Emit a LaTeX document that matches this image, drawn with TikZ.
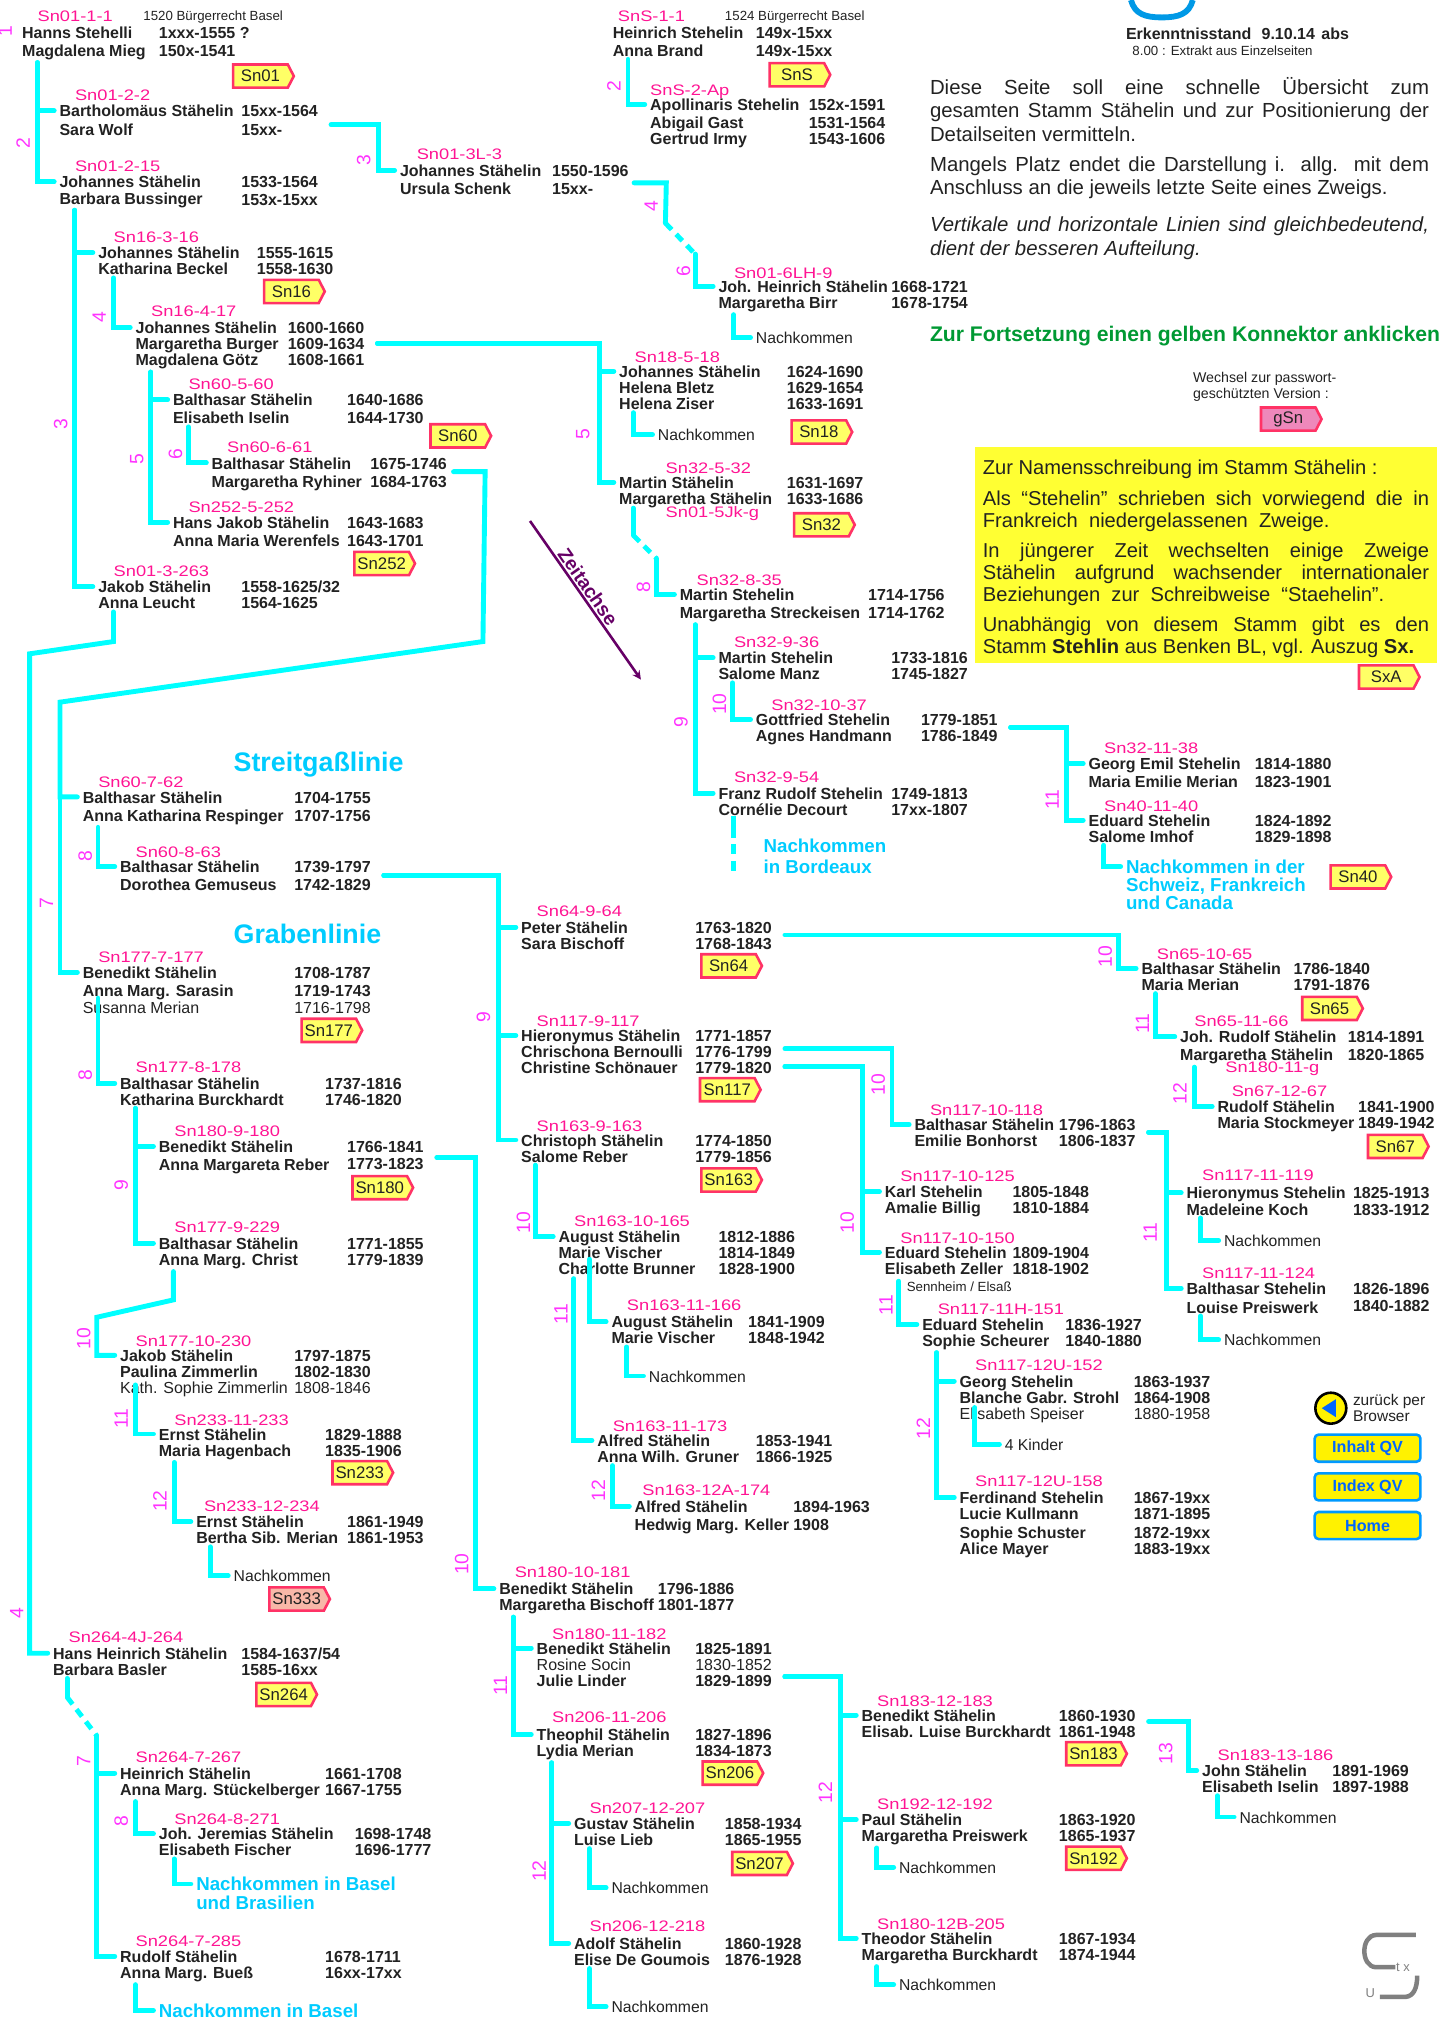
\documentclass[tikz,border=0pt]{standalone}
\usepackage{fontspec}
\setmainfont{Liberation Sans}
\newfontfamily\idfont[FakeStretch=1.2]{Liberation Sans}
\usetikzlibrary{shapes.symbols}
\definecolor{linecyan}{HTML}{00FFFF}
\definecolor{textcyan}{HTML}{00CCFF}
\definecolor{idpink}{HTML}{FF1493}
\definecolor{genpink}{HTML}{FF33FF}
\definecolor{tagred}{HTML}{FF3366}
\definecolor{tagyellow}{HTML}{FFFF66}
\definecolor{tagpink}{HTML}{EE88BB}
\definecolor{tagsalmon}{HTML}{F8B8A8}
\definecolor{boxyellow}{HTML}{FFFF33}
\definecolor{hintgreen}{HTML}{009933}
\definecolor{logoblue}{HTML}{0099E6}
\definecolor{timepurple}{HTML}{660066}
\definecolor{btnblue}{HTML}{0099FF}
\definecolor{btntext}{HTML}{0066FF}
\definecolor{ink}{HTML}{222222}
\begin{document}
\begin{tikzpicture}[x=1pt,y=-1pt]
	\tikzstyle{pers}=[anchor=north west,inner sep=0pt,yshift=5.5pt,align=left,text=ink,font=\fontsize{12.4}{12.5}\selectfont\bfseries]
	\tikzstyle{kenn}=[anchor=west,inner sep=0pt,text=idpink,font=\idfont\fontsize{11.8}{12}\selectfont]
	\tikzstyle{nach}=[anchor=north west,inner sep=0pt,yshift=5.5pt,align=left,text=ink,font=\fontsize{12.2}{13}\selectfont]
	\tikzstyle{zweig}=[anchor=north west,inner sep=0pt,yshift=5.5pt,align=left,text=textcyan,font=\fontsize{14.5}{14.2}\selectfont\bfseries]
	\tikzstyle{titel}=[anchor=west,inner sep=0pt,text=textcyan,font=\fontsize{20.8}{22}\selectfont\bfseries]
	\tikzstyle{gen}=[inner sep=0pt,rotate=90,text=genpink,font=\fontsize{15}{15}\selectfont]
	\tikzstyle{klein}=[anchor=west,inner sep=0pt,text=ink,font=\fontsize{10.3}{12}\selectfont]
	\tikzstyle{para}=[anchor=north west,inner sep=0pt,text width=387pt,align=justify,text=ink,font=\fontsize{15.8}{18}\selectfont]
	\tikzstyle{gelb}=[anchor=north west,inner sep=0pt,text width=346pt,align=justify,text=ink,font=\fontsize{15.6}{16.8}\selectfont]
	\tikzstyle{konn}=[signal,signal to=east,signal pointer angle=125,draw=tagred,fill=tagyellow,line width=2pt,inner sep=0pt,minimum width=47pt,minimum height=18pt,xshift=-3pt,text=ink,font=\fontsize{13}{13}\selectfont]
	\tikzstyle{knopf}=[rounded corners=3pt,draw=btnblue,fill=yellow,line width=2pt,minimum width=82pt,minimum height=21pt,inner sep=0pt,text=btntext,font=\fontsize{12.5}{13}\selectfont\bfseries]
	\tikzstyle{linie}=[draw=linecyan,line width=3.8pt,line cap=round]
	\tikzstyle{strich}=[draw=linecyan,line width=3.8pt,dash pattern=on 7pt off 5pt]

	\useasboundingbox (0,0) rectangle (1126,1568);

	\foreach \key/\px/\py/\sx/\sy/\sid/\names/\qx/\years in {
		a1/17/25/29/13/Sn01-1-1/{Hanns Stehelli\\[1.5pt]Magdalena Mieg}/123/{1xxx-1555 ?\\[1.5pt]150x-1541},
		a2/46/86/58/74/Sn01-2-2/{Bartholomäus Stähelin\\[1.5pt]Sara Wolf}/187/{15xx-1564\\[1.5pt]15xx-},
		a3/46/141/58/129/Sn01-2-15/{Johannes Stähelin\\Barbara Bussinger}/187/{1533-1564\\[1pt]153x-15xx},
		b1/76/196/88/184/Sn16-3-16/{Johannes Stähelin\\Katharina Beckel}/199/{1555-1615\\1558-1630},
		b2/105/254/117/241/Sn16-4-17/{Johannes Stähelin\\Margaretha Burger\\Magdalena Götz}/223/{1600-1660\\1609-1634\\1608-1661},
		c1/134/310/146/298/Sn60-5-60/{Balthasar Stähelin\\[1.5pt]Elisabeth Iselin}/269/{1640-1686\\[1.5pt]1644-1730},
		c2/164/359/176/347/Sn60-6-61/{Balthasar Stähelin\\[1.5pt]Margaretha Ryhiner}/287/{1675-1746\\[1.5pt]1684-1763},
		c3/134/405/146/393/Sn252-5-252/{Hans Jakob Stähelin\\[1.5pt]Anna Maria Werenfels}/269/{1643-1683\\[1.5pt]1643-1701},
		d1/76/455/88/443/Sn01-3-263/{Jakob Stähelin\\Anna Leucht}/187/{1558-1625/32\\1564-1625},
		e1/64/618/76/607/Sn60-7-62/{Balthasar Stähelin\\[1.5pt]Anna Katharina Respinger}/228/{1704-1755\\[1.5pt]1707-1756},
		e2/93/672/105/661/Sn60-8-63/{Balthasar Stähelin\\[1.5pt]Dorothea Gemuseus}/228/{1739-1797\\[1.5pt]1742-1829},
		f1/64/754/76/742/Sn177-7-177/{Benedikt Stähelin\\[1.5pt]Anna Marg. Sarasin\\[1pt]\textmd{Susanna Merian}}/228/{1708-1787\\[1.5pt]1719-1743\\[1pt]\textmd{1716-1798}},
		f2/93/840/105/828/Sn177-8-178/{Balthasar Stähelin\\Katharina Burckhardt}/252/{1737-1816\\1746-1820},
		f3/123/889/135/877/Sn180-9-180/{Benedikt Stähelin\\[1.5pt]Anna Margareta Reber}/269/{1766-1841\\[1pt]1773-1823},
		f4/123/964/135/952/Sn177-9-229/{Balthasar Stähelin\\Anna Marg. Christ}/269/{1771-1855\\1779-1839},
		g1/93/1051/105/1040/Sn177-10-230/{Jakob Stähelin\\Paulina Zimmerlin\\\textmd{Kath. Sophie Zimmerlin}}/228/{1797-1875\\1802-1830\\\textmd{1808-1846}},
		g2/123/1112/135/1101/Sn233-11-233/{Ernst Stähelin\\Maria Hagenbach}/252/{1829-1888\\1835-1906},
		g3/152/1180/158/1168/Sn233-12-234/{Ernst Stähelin\\Bertha Sib. Merian}/269/{1861-1949\\1861-1953},
		h1/41/1282/53/1270/Sn264-4J-264/{Hans Heinrich Stähelin\\Barbara Basler}/187/{1584-1637/54\\1585-16xx},
		h2/93/1375/105/1363/Sn264-7-267/{Heinrich Stähelin\\Anna Marg. Stückelberger}/252/{1661-1708\\1667-1755},
		h3/123/1422/135/1411/Sn264-8-271/{Joh. Jeremias Stähelin\\Elisabeth Fischer}/275/{1698-1748\\1696-1777},
		h5/93/1517/105/1505/Sn264-7-285/{Rudolf Stähelin\\Anna Marg. Bueß}/252/{1678-1711\\16xx-17xx},
		i1/475/25/479/13/SnS-1-1/{Heinrich Stehelin\\[1.5pt]Anna Brand}/586/{149x-15xx\\[1.5pt]149x-15xx},
		i2/504/81/504/71/SnS-2-Ap/{Apollinaris Stehelin\\[1.5pt]Abigail Gast\\Gertrud Irmy}/627/{152x-1591\\[1.5pt]1531-1564\\1543-1606},
		j1/310/132/323/120/Sn01-3L-3/{Johannes Stähelin\\[1.5pt]Ursula Schenk}/428/{1550-1596\\[1.5pt]15xx-},
		k1/557/222/569/212/Sn01-6LH-9/{Joh. Heinrich Stähelin\\Margaretha Birr}/691/{1668-1721\\1678-1754},
		l1/480/288/492/277/Sn18-5-18/{Johannes Stähelin\\Helena Bletz\\Helena Ziser}/610/{1624-1690\\1629-1654\\1633-1691},
		m1/480/374/516/363/Sn32-5-32/{Martin Stähelin\\Margaretha Stähelin}/610/{1631-1697\\1633-1686},
		n1/527/461/540/450/Sn32-8-35/{Martin Stehelin\\[1.5pt]Margaretha Streckeisen}/673/{1714-1756\\[1.5pt]1714-1762},
		n2/557/510/569/498/Sn32-9-36/{Martin Stehelin\\Salome Manz}/691/{1733-1816\\1745-1827},
		n3/586/558/598/547/Sn32-10-37/{Gottfried Stehelin\\Agnes Handmann}/714/{1779-1851\\1786-1849},
		n4/557/615/569/603/Sn32-9-54/{Franz Rudolf Stehelin\\Cornélie Decourt}/691/{1749-1813\\17xx-1807},
		o1/844/592/856/580/Sn32-11-38/{Georg Emil Stehelin\\[1.5pt]Maria Emilie Merian}/973/{1814-1880\\[1.5pt]1823-1901},
		o2/844/636/856/625/Sn40-11-40/{Eduard Stehelin\\Salome Imhof}/973/{1824-1892\\1829-1898},
		p1/404/719/416/707/Sn64-9-64/{Peter Stähelin\\Sara Bischoff}/539/{1763-1820\\1768-1843},
		p2/404/803/416/792/Sn117-9-117/{Hieronymus Stähelin\\Chrischona Bernoulli\\Christine Schönauer}/539/{1771-1857\\1776-1799\\1779-1820},
		p3/404/884/416/873/Sn163-9-163/{Christoph Stähelin\\Salome Reber}/539/{1774-1850\\1779-1856},
		p4/433/959/445/947/Sn163-10-165/{August Stähelin\\Marie Vischer\\Charlotte Brunner}/557/{1812-1886\\1814-1849\\1828-1900},
		p5/474/1025/486/1012/Sn163-11-166/{August Stähelin\\Marie Vischer}/580/{1841-1909\\1848-1942},
		p7/463/1117/475/1106/Sn163-11-173/{Alfred Stähelin\\Anna Wilh. Gruner}/586/{1853-1941\\1866-1925},
		p8/492/1168/498/1156/Sn163-12A-174/{Alfred Stähelin\\[1.5pt]Hedwig Marg. Keller}/615/{1894-1963\\[1.5pt]1908},
		q1/387/1232/399/1219/Sn180-10-181/{Benedikt Stähelin\\Margaretha Bischoff}/510/{1796-1886\\1801-1877},
		q2/416/1278/428/1267/Sn180-11-182/{Benedikt Stähelin\\\textmd{Rosine Socin}\\Julie Linder}/539/{1825-1891\\\textmd{1830-1852}\\1829-1899},
		q3/416/1345/428/1332/Sn206-11-206/{Theophil Stähelin\\Lydia Merian}/539/{1827-1896\\1834-1873},
		q4/445/1414/457/1402/Sn207-12-207/{Gustav Stähelin\\Luise Lieb}/562/{1858-1934\\1865-1955},
		q6/445/1507/457/1494/Sn206-12-218/{Adolf Stähelin\\Elise De Goumois}/562/{1860-1928\\1876-1928},
		r1/668/1330/680/1319/Sn183-12-183/{Benedikt Stähelin\\Elisab. Luise Burckhardt}/821/{1860-1930\\1861-1948},
		r2/668/1411/680/1399/Sn192-12-192/{Paul Stähelin\\Margaretha Preiswerk}/821/{1863-1920\\1865-1937},
		r4/668/1503/680/1492/Sn180-12B-205/{Theodor Stähelin\\Margaretha Burckhardt}/821/{1867-1934\\1874-1944},
		s1/932/1373/944/1361/Sn183-13-186/{John Stähelin\\Elisabeth Iselin}/1033/{1891-1969\\1897-1988},
		t1/885/751/897/740/Sn65-10-65/{Balthasar Stähelin\\Maria Merian}/1003/{1786-1840\\1791-1876},
		t2/915/804/926/792/Sn65-11-66/{Joh. Rudolf Stähelin\\[1.5pt]Margaretha Stähelin}/1045/{1814-1891\\[1.5pt]1820-1865},
		t3/944/858/955/846/Sn67-12-67/{Rudolf Stähelin\\Maria Stockmeyer}/1053/{1841-1900\\1849-1942},
		u1/709/872/721/861/Sn117-10-118/{Balthasar Stähelin\\Emilie Bonhorst}/821/{1796-1863\\1806-1837},
		u2/686/924/698/912/Sn117-10-125/{Karl Stehelin\\Amalie Billig}/785/{1805-1848\\1810-1884},
		u3/686/971/698/960/Sn117-10-150/{Eduard Stehelin\\Elisabeth Zeller}/785/{1809-1904\\1818-1902},
		u4/715/1027/727/1015/Sn117-11H-151/{Eduard Stehelin\\Sophie Scheurer}/826/{1836-1927\\1840-1880},
		u5/744/1071/756/1059/Sn117-12U-152/{Georg Stehelin\\Blanche Gabr. Strohl\\\textmd{Elisabeth Speiser}}/879/{1863-1937\\1864-1908\\\textmd{1880-1958}},
		u6/744/1161/756/1149/Sn117-12U-158/{Ferdinand Stehelin\\Lucie Kullmann\\[2.5pt]Sophie Schuster\\Alice Mayer}/879/{1867-19xx\\1871-1895\\[2.5pt]1872-19xx\\1883-19xx},
		v1/920/925/932/911/Sn117-11-119/{Hieronymus Stehelin\\Madeleine Koch}/1049/{1825-1913\\1833-1912},
		v3/920/999/932/987/Sn117-11-124/{Balthasar Stehelin\\[2pt]Louise Preiswerk}/1049/{1826-1896\\[1pt]1840-1882}}
	{
		\node[kenn] (s\key) at (\sx,\sy) {\sid};
		\node[pers] (\key) at (\px,\py) {\rule{0pt}{10pt}\names};
		\node[pers] (q\key) at (\qx,\py) {\rule{0pt}{10pt}\years};
	}

	\node[kenn] (s1x) at (516,398) {Sn01-5Jk-g};
	\node[kenn] (s2x) at (950,829) {Sn180-11-g};

	\foreach \key/\px/\py/\txt in {k2/586/262/Nachkommen,l2/510/337/Nachkommen,g4/181/1222/Nachkommen,p6/503/1067/Nachkommen,q5/474/1464/Nachkommen,q7/474/1556/Nachkommen,r3/697/1448/Nachkommen,r5/697/1539/Nachkommen,s2/961/1409/Nachkommen,v2/949/962/Nachkommen,v4/949/1039/Nachkommen,u7/779/1120/4 Kinder}
		\node[nach] (\key) at (\px,\py) {\rule{0pt}{10pt}\txt};

	\node[zweig] (h4) at (152,1461) {Nachkommen in Basel\\und Brasilien};
	\node[zweig] (h6) at (123,1559) {Nachkommen in Basel};
	\node[zweig] (n5) at (592,656) {Nachkommen\\[1.8pt]in Bordeaux};
	\node[zweig] (o3) at (873,672) {Nachkommen in der\\Schweiz, Frankreich\\und Canada};

	\node[titel] (streit) at (181,593) {Streitgaßlinie};
	\node[titel] (graben) at (181,724) {Grabenlinie};

	\node[klein] (b1520) at (111,13) {1520 Bürgerrecht Basel};
	\node[klein] (b1524) at (562,13) {1524 Bürgerrecht Basel};
	\node[klein] (senn) at (703,998) {Sennheim / Elsaß};

	\foreach \x/\y/\g [count=\i] in {4/24/1,18/111/2,47/329/3,77/246/4,106/356/5,136/352/6,282/124/3,36/700/7,66/664/8,66/834/8,94/919/9,65/1038/10,94/1100/11,124/1164/12,13/1251/4,65/1366/7,94/1412/8,358/1213/10,375/789/9,406/948/10,435/1019/11,464/1156/12,388/1307/11,418/1451/12,640/1390/12,904/1360/13,476/67/2,505/160/4,530/210/6,452/337/5,499/455/8,528/560/9,558/546/10,816/620/11,857/742/10,886/794/11,915/848/12,681/841/10,657/948/10,892/956/11,687/1012/11,716/1108/12}
		\node[gen] (gen\i) at (\x,\y) {\g};

	\foreach \from/\to/\dx/\dy in {a1/a2/12/2,a1/a3/12/2,a3/b1/12/2,a3/d1/12/2,b1/b2/12/2,b2/c1/12/2,b2/c3/12/2,c1/c2/12/2,e1/e2/12/2,f1/f2/12/-12.5,f2/f3/12/2,f2/f4/12/2,g1/g2/12/-9.5,g2/g3/12/2,g3/g4/11/2,h2/h3/12/2,h3/h4/12/2,h5/h6/12/2,i1/i2/12/2,k1/k2/12/2,l1/l2/11/2,n1/n2/12/2,n1/n4/12/2,n2/n3/11/2,o2/o3/12/2,t1/t2/11/2,t2/t3/11/2,v1/v2/11/2,v3/v4/11/2,u3/u4/11/5,u4/u5/11.5/2,u4/u6/11.5/2,u5/u7/12/-12,p3/p4/11/2,p4/p5/24/-12.5,p4/p7/12/2.5,p5/p6/12/2,p7/p8/12/2,q1/q2/11/2,q1/q3/11/2,q3/q4/12/2,q3/q6/12/2,q4/q5/12/2,q6/q7/12/2,r2/r3/12/2,r4/r5/12/2,s1/s2/12/2}
		\draw[linie] ([shift={(\dx,\dy)}]\from.south west) |- ([shift={(-4,5.5)}]\to.north west);

	\foreach \from/\dy/\run/\to in {a2/4/37/j1,b2/0/172/l1,b2/0/172/m1,e2/0/89/p1,e2/0/89/p2,e2/0/89/p3,f3/2/30/q1,n3/0/43/o1,n3/0/43/o2,p1/0/259/t1,p2/-2/83/u1,p2/12/60/u2,p2/12/60/u3,u1/0/14/v1,u1/0/14/v3,q2/10/43/r1,q2/10/43/r2,q2/10/43/r4,r1/-1/31/s1}
		\draw[linie] ([shift={(10,\dy)}]q\from.east) -- ++(\run,0) |- ([shift={(-4,5.5)}]\to.north west);

	\coordinate (d1a) at (88,497.5);
	\coordinate (d1b) at (23,507);
	\draw[linie] ([shift={(12,2)}]d1.south west) -- (d1a) -- (d1b) |- ([shift={(-4,5.5)}]h1.north west);
	\coordinate (c2a) at (374.5,497.5);
	\coordinate (c2b) at (46.5,544.5);
	\draw[linie] ([shift={(5,0)}]qc2.east) -- ++(24.5,0) -- (c2a) -- (c2b) |- ([shift={(-4,5.5)}]e1.north west);
	\draw[linie] (c2b) |- ([shift={(-4,5.5)}]f1.north west);
	\coordinate (f4a) at (134.5,1008);
	\coordinate (f4b) at (75,1021.5);
	\draw[linie] ([shift={(11.5,2)}]f4.south west) -- (f4a) -- (f4b) |- ([shift={(-4,5.5)}]g1.north west);
	\coordinate (j1a) at (516,173);
	\coordinate (j1b) at (539,197);
	\draw[linie] ([shift={(4,3)}]qj1.east) -- ++(25,0) -- (j1a);
	\draw[strich] (j1a) -- (j1b);
	\draw[linie] (j1b) |- ([shift={(-4,5.5)}]k1.north west);
	\coordinate (m1a) at (491,415);
	\coordinate (m1b) at (509,433);
	\draw[linie] ([shift={(11,0)}]m1.south west) -- (m1a);
	\draw[strich] (m1a) -- (m1b);
	\draw[linie] (m1b) |- ([shift={(-4,5.5)}]n1.north west);
	\coordinate (h1a) at (52,1316);
	\coordinate (h1b) at (75,1346);
	\draw[linie] ([shift={(11,2)}]h1.south west) -- (h1a);
	\draw[strich] (h1a) -- (h1b);
	\draw[linie] (h1b) |- ([shift={(-4,5.5)}]h2.north west);
	\draw[linie] (h1b) |- ([shift={(-4,5.5)}]h5.north west);
	\coordinate (n4a) at (568.5,676);
	\draw[draw=linecyan,line width=3.8pt,dash pattern=on 17pt off 5pt on 8pt off 5pt on 8pt off 50pt] ([shift={(11.5,0)}]n4.south west) -- (n4a);

	\foreach \name/\x/\y in {Sn01/205/59,SnS/621/58,Sn16/229/226,Sn60/358/338,Sn18/638/335,Sn32/640/407,Sn252/299/437,SxA/1078/525,Sn40/1056/680,Sn177/258/799,Sn64/568/749,Sn65/1034/782,Sn117/567/845,Sn67/1085/889,Sn163/568/915,Sn180/297.5/921,Sn233/282/1142,Sn264/223/1314,Sn206/569/1375,Sn207/592/1445,Sn183/851/1360,Sn192/851/1441}
		\node[konn] (t\name) at (\x,\y) {\name};
	\node[konn,fill=tagsalmon] (tSn333) at (233,1240) {Sn333};
	\node[konn,fill=tagpink] (tgSn) at (1002,325) {gSn};

	\draw[line width=4.5pt,draw=logoblue] (877,0) .. controls (880,11) and (888,13.5) .. (901,13.5) .. controls (914,13.5) and (922,11) .. (925,0);
	\node[anchor=west,inner sep=0pt,text=ink,font=\fontsize{12.4}{12}\selectfont\bfseries] (stand) at (873,26) {Erkenntnisstand\hspace{8pt}9.10.14\hspace{5pt}abs};
	\node[klein] (extrakt) at (878,39) {8.00 :\hspace{4pt}Extrakt aus Einzelseiten};

	\node[para] (txt1) at (721,60) {Diese Seite soll eine schnelle Übersicht zum\linebreak gesamten Stamm Stähelin und zur Positionierung der\linebreak Detailseiten vermitteln.};
	\node[para] (txt2) at (721,121) {Mangels Platz endet die Darstellung\hspace{6pt}i. allg. mit dem\linebreak Anschluss an die jeweils letzte Seite eines Zweigs.};
	\node[para,font=\fontsize{15.8}{18.6}\selectfont\itshape] (txt3) at (721,167.5) {Vertikale und horizontale Linien sind gleichbedeutend,\linebreak dient der besseren Aufteilung.};
	\node[anchor=west,inner sep=0pt,text=hintgreen,font=\fontsize{16.4}{17}\selectfont\bfseries] (hint) at (721,261) {Zur Fortsetzung einen gelben Konnektor anklicken};
	\node[klein,align=left,font=\fontsize{11}{12}\selectfont] (wechsel) at (925,300) {Wechsel zur passwort-\\geschützten Version :};

	\fill[boxyellow] (756,347) rectangle (1114,514);
	\node[gelb] (gelb1) at (762,356.5) {Zur Namensschreibung im Stamm Stähelin :};
	\node[gelb] (gelb2) at (762,380.5) {Als “Stehelin” schrieben sich vorwiegend die in\linebreak Frankreich\ \ niedergelassenen\ \ Zweige.};
	\node[gelb] (gelb3) at (762,421) {In jüngerer Zeit wechselten einige Zweige\linebreak Stähelin aufgrund wachsender internationaler\linebreak Beziehungen\ \ zur\ \ Schreibweise\ \ “Staehelin”.};
	\node[gelb] (gelb4) at (762,478.5) {Unabhängig von diesem Stamm gibt es den\linebreak Stamm \textbf{Stehlin} aus Benken BL, vgl. Auszug \textbf{Sx.}};

	\coordinate (z1) at (411,404);
	\coordinate (z2) at (497,527);
	\draw[->,>=stealth,draw=timepurple,line width=2pt] (z1) -- (z2);
	\node[inner sep=0pt,rotate=-55,text=timepurple,font=\fontsize{15}{15}\selectfont\bfseries] (zeit) at (456,455) {Zeitachse};

	\node[circle,draw=black,fill=yellow,line width=2pt,minimum size=24pt,inner sep=0pt] (zurueck) at (1032,1092) {};
	\fill[btntext] ([xshift=-7pt]zurueck.center) -- ([shift={(4,-7)}]zurueck.center) -- ([shift={(4,7)}]zurueck.center) -- cycle;
	\node[klein,align=left,font=\fontsize{12}{12}\selectfont] (browser) at (1049,1092) {zurück per\\Browser};
	\foreach \key/\y/\txt in {inhalt/1123/Inhalt QV,index/1153/Index QV,home/1183/Home}
		\node[knopf] (\key) at (1060.5,\y) {\txt};

	\draw[draw=gray,line width=3.5pt] (1098,1500.5) -- (1067,1500.5) .. controls (1055,1501) and (1055,1525) .. (1067,1525.5) -- (1082,1525.5);
	\draw[draw=gray,line width=3.5pt] (1070,1548.5) -- (1090,1548.5) .. controls (1096,1548) and (1099,1542) .. (1099,1532);
	\node[inner sep=0pt,text=gray,font=\fontsize{10}{10}\selectfont] (logotx) at (1088,1526) {t x};
	\node[inner sep=0pt,text=gray,font=\fontsize{10}{10}\selectfont] (logou) at (1062.5,1545.5) {U};
\end{tikzpicture}
\end{document}
